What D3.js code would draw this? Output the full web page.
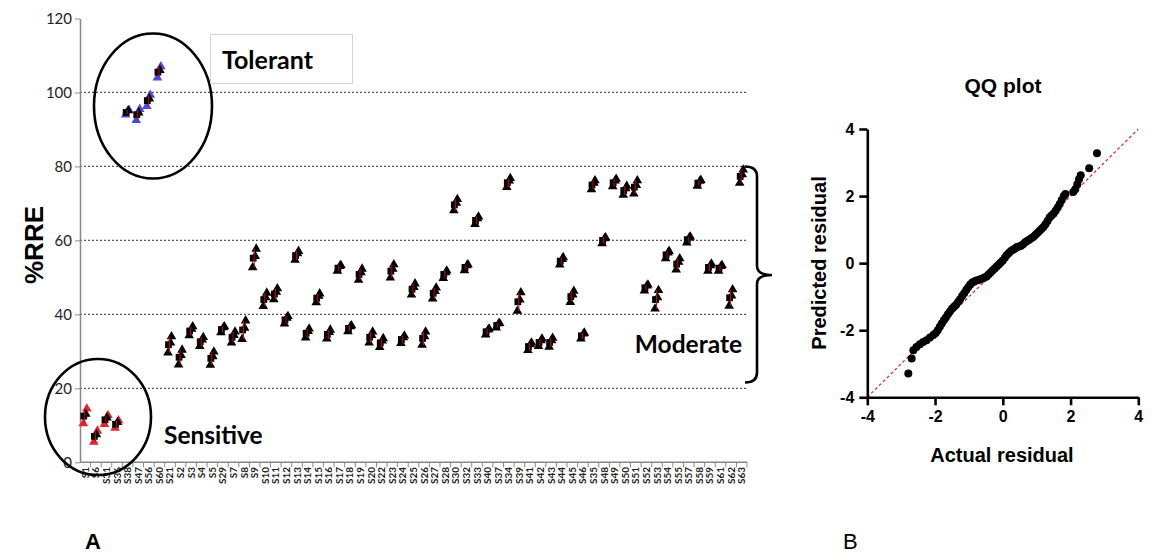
<!DOCTYPE html>
<html>
<head>
<meta charset="utf-8">
<script src="https://cdn.jsdelivr.net/npm/d3@7"></script>
<style>
  body { margin: 0; background: #fff; }
  svg { display: block; }
</style>
</head>
<body>
<svg id="chart" width="1154" height="553"></svg>
<script>
// Sample order along the x axis
const sampleNames = ["S1","S6","S31","S36","S38","S47","S56","S60","S21","S2","S3","S4","S5","S29","S7","S8",
  "S9","S10","S11","S12","S13","S14","S15","S16","S17","S18","S19","S20","S22","S23","S24","S25","S26","S27",
  "S28","S30","S32","S33","S40","S37","S34","S39","S41","S42","S43","S44","S45","S46","S35","S48","S49","S50",
  "S51","S52","S53","S54","S55","S57","S58","S59","S61","S62","S63"];

// Mean %RRE per sample and spread of the replicates
const meanRRE = [12.5, 7.0, 11.5, 10.3, 94.6, 94.0, 97.8, 105.5, 31.8, 28.4, 35.5, 32.6, 28.1, 35.9, 33.8, 35.8,
  55.2, 44.0, 45.5, 38.5, 55.9, 34.9, 44.4, 34.6, 52.5, 36.2, 50.8, 33.8, 32.3, 51.7, 33.2, 46.8, 33.5, 45.7,
  50.8, 69.6, 52.7, 65.4, 35.3, 37.0, 75.6, 43.4, 31.3, 32.4, 32.4, 54.4, 44.8, 34.2, 75.0, 60.0, 75.6, 73.5,
  74.4, 47.2, 44.0, 56.1, 53.6, 60.2, 75.5, 52.7, 52.5, 44.5, 77.3];
const sdRRE = [2.0, 1.5, 1.2, 1.0, 0.6, 1.5, 1.5, 1.5, 2.2, 2.0, 1.2, 1.2, 1.8, 0.8, 1.5, 2.5,
  2.5, 1.8, 1.5, 1.0, 1.2, 1.2, 1.2, 1.2, 0.8, 0.8, 1.5, 1.5, 1.2, 1.8, 1.0, 1.5, 1.8, 1.5,
  1.0, 1.5, 0.8, 1.0, 0.8, 0.6, 1.2, 2.5, 1.0, 1.0, 1.2, 1.0, 1.5, 0.8, 1.2, 0.8, 1.0, 1.2,
  1.8, 0.8, 2.5, 1.0, 1.5, 0.8, 0.8, 1.0, 0.8, 2.2, 1.8];

const sensitiveSamples = ["S1","S6","S31","S36"];
const tolerantSamples = ["S38","S47","S56","S60"];
const yTicks = [0, 20, 40, 60, 80, 100, 120];

// QQ plot: sorted actual residuals vs predicted residuals
const qqActual = [-2.79,-2.69,-2.64,-2.55,-2.45,-2.35,-2.25,-2.15,-2.05,-1.98,-1.92,-1.86,-1.8,-1.74,-1.68,-1.62,
  -1.56,-1.5,-1.44,-1.38,-1.32,-1.26,-1.2,-1.14,-1.08,-1.02,-0.96,-0.9,-0.84,-0.78,-0.72,-0.66,-0.6,-0.54,-0.48,
  -0.42,-0.36,-0.3,-0.24,-0.18,-0.12,-0.06,0,0.06,0.12,0.18,0.24,0.3,0.36,0.42,0.48,0.54,0.6,0.66,0.72,0.78,0.84,
  0.9,0.96,1.02,1.08,1.14,1.2,1.26,1.32,1.38,1.44,1.5,1.56,1.62,1.68,1.74,1.8,1.85,2.08,2.14,2.2,2.25,2.3,2.55,2.78];
const qqPredicted = [-3.29,-2.84,-2.6,-2.5,-2.42,-2.35,-2.3,-2.22,-2.14,-2.08,-2.0,-1.9,-1.8,-1.7,-1.62,-1.52,
  -1.44,-1.36,-1.3,-1.24,-1.16,-1.08,-0.98,-0.9,-0.8,-0.72,-0.64,-0.58,-0.55,-0.52,-0.5,-0.48,-0.46,-0.43,-0.4,
  -0.34,-0.28,-0.22,-0.16,-0.1,-0.04,0.02,0.08,0.16,0.24,0.3,0.36,0.4,0.44,0.48,0.5,0.52,0.56,0.62,0.66,0.7,0.74,
  0.78,0.84,0.9,0.96,1.02,1.08,1.16,1.26,1.36,1.42,1.48,1.56,1.66,1.76,1.88,2.0,2.06,2.12,2.2,2.35,2.5,2.62,2.83,3.28];
const qqTicks = [-4, -2, 0, 2, 4];

const svg = d3.select("#chart");
const leftFont = "Lato, 'Open Sans', sans-serif";
const rightFont = "'Liberation Sans', Arial, sans-serif";

// ---------- Left panel: %RRE per sample ----------
const x = d3.scaleBand().domain(sampleNames).range([80, 747]);
const y = d3.scaleLinear().domain([0, 120]).range([462.3, 18.5]);

svg.append("g").selectAll("line")
  .data(yTicks.filter(d => d > 0 && d < 120))
  .join("line")
  .attr("x1", 80).attr("x2", 747)
  .attr("y1", d => y(d)).attr("y2", d => y(d))
  .attr("stroke", "#555").attr("stroke-width", 1.2).attr("stroke-dasharray", "2,2");

const yAxis = svg.append("g").attr("transform", "translate(80,0)")
  .call(d3.axisLeft(y).tickValues(yTicks).tickSize(5).tickSizeOuter(0).tickFormat(d => d));
yAxis.select(".domain").attr("stroke", "#888").attr("stroke-width", 1.5);
yAxis.selectAll(".tick line").attr("stroke", "#888");
yAxis.selectAll("text").attr("font-family", leftFont).attr("font-size", 15).attr("fill", "#222").attr("x", -8);

// x axis line, boundary ticks and rotated labels
svg.append("line").attr("x1", 80).attr("x2", 747).attr("y1", y(0)).attr("y2", y(0))
  .attr("stroke", "#888").attr("stroke-width", 1.5);
svg.append("g").selectAll("line")
  .data(sampleNames)
  .join("line")
  .attr("x1", d => x(d) + x.bandwidth()).attr("x2", d => x(d) + x.bandwidth())
  .attr("y1", y(0)).attr("y2", y(0) + 5)
  .attr("stroke", "#888");
svg.append("g").selectAll("text")
  .data(sampleNames)
  .join("text")
  .attr("transform", d => `translate(${x(d) + x.bandwidth() / 2},467) rotate(-90)`)
  .attr("text-anchor", "end").attr("dy", "0.35em")
  .attr("font-family", leftFont).attr("font-size", 10).attr("font-weight", 700).attr("fill", "#222")
  .text(d => d);

// markers
const tri = d3.symbol().type(d3.symbolTriangle).size(40);
const sq = d3.symbol().type(d3.symbolSquare).size(46);
const groupColor = name => sensitiveSamples.includes(name) ? "#e8202a"
  : tolerantSamples.includes(name) ? "#4a4ae0" : "#000";

const marks = svg.append("g").selectAll("g")
  .data(sampleNames.map((name, i) => ({name, mean: meanRRE[i], sd: sdRRE[i]})))
  .join("g")
  .attr("transform", d => `translate(${x(d.name) + x.bandwidth() / 2},0)`);

marks.append("path").attr("d", tri)
  .attr("transform", d => `translate(-2,${y(d.mean - d.sd)})`)
  .attr("fill", d => groupColor(d.name));
marks.append("path").attr("d", tri)
  .attr("transform", d => `translate(1.5,${y(d.mean + d.sd)})`)
  .attr("fill", d => groupColor(d.name));
marks.append("path").attr("d", tri)
  .attr("transform", d => `translate(0.5,${y(d.mean) - 2})`)
  .attr("fill", "#000");
marks.append("path").attr("d", sq)
  .attr("transform", d => `translate(-1.5,${y(d.mean)})`)
  .attr("fill", "#000");
marks.append("line")
  .attr("x1", -0.5).attr("x2", -0.5)
  .attr("y1", d => y(d.mean - d.sd)).attr("y2", d => y(d.mean + d.sd))
  .attr("stroke", "#e00000").attr("stroke-width", 1);

// y title
svg.append("text")
  .attr("transform", "translate(43,245) rotate(-90)")
  .attr("text-anchor", "middle")
  .attr("font-family", rightFont).attr("font-size", 26).attr("font-weight", 700)
  .text("%RRE");

// group annotations
svg.append("ellipse").attr("cx", 153).attr("cy", 106).attr("rx", 59).attr("ry", 72.5)
  .attr("fill", "none").attr("stroke", "#000").attr("stroke-width", 2.6);
svg.append("ellipse").attr("cx", 98).attr("cy", 417).attr("rx", 53).attr("ry", 58)
  .attr("fill", "none").attr("stroke", "#000").attr("stroke-width", 2.6);
svg.append("rect").attr("x", 210.5).attr("y", 34.5).attr("width", 142).attr("height", 49)
  .attr("fill", "#fff").attr("stroke", "#d4d4d4");
svg.append("text").attr("x", 222).attr("y", 69)
  .attr("font-family", leftFont).attr("font-size", 25).attr("font-weight", 700).text("Tolerant");
svg.append("text").attr("x", 164).attr("y", 444)
  .attr("font-family", leftFont).attr("font-size", 24.5).attr("font-weight", 700).text("Sensitive");
svg.append("text").attr("x", 742).attr("y", 353).attr("text-anchor", "end")
  .attr("font-family", leftFont).attr("font-size", 24.5).attr("font-weight", 700).text("Moderate");

const bTop = y(80), bBot = 382.5, bMid = 275;
svg.append("path")
  .attr("d", `M745,${bTop} Q757,${bTop} 757,${bTop + 10} L757,${bMid - 9} Q757,${bMid} 772,${bMid} ` +
             `Q757,${bMid} 757,${bMid + 9} L757,${bBot - 10} Q757,${bBot} 745,${bBot}`)
  .attr("fill", "none").attr("stroke", "#000").attr("stroke-width", 2.6);

// ---------- Right panel: QQ plot ----------
const qx = d3.scaleLinear().domain([-4, 4]).range([867.3, 1138.3]);
const qy = d3.scaleLinear().domain([-4, 4]).range([397.3, 129]);

svg.append("line")
  .attr("x1", qx(-4)).attr("y1", qy(-4)).attr("x2", qx(4)).attr("y2", qy(4))
  .attr("stroke", "#e8202a").attr("stroke-width", 1.2).attr("stroke-dasharray", "3,2.5");

svg.append("g").selectAll("circle")
  .data(qqActual.map((a, i) => [a, qqPredicted[i]]))
  .join("circle")
  .attr("cx", d => qx(d[0])).attr("cy", d => qy(d[1])).attr("r", 4)
  .attr("fill", "#000");

const qxAxis = svg.append("g").attr("transform", `translate(0,${qy(-4)})`)
  .call(d3.axisBottom(qx).tickValues(qqTicks).tickSize(8).tickSizeOuter(0).tickPadding(5).tickFormat(d => String(d)));
const qyAxis = svg.append("g").attr("transform", `translate(${qx(-4)},0)`)
  .call(d3.axisLeft(qy).tickValues(qqTicks).tickSize(8).tickSizeOuter(0).tickPadding(5).tickFormat(d => String(d)));
[qxAxis, qyAxis].forEach(ax => {
  ax.select(".domain").attr("stroke", "#000").attr("stroke-width", 2.6);
  ax.selectAll(".tick line").attr("stroke", "#000").attr("stroke-width", 2.6);
  ax.selectAll("text").attr("font-family", rightFont).attr("font-size", 16).attr("font-weight", 700).attr("fill", "#000");
});

svg.append("text").attr("x", 1003).attr("y", 93).attr("text-anchor", "middle")
  .attr("font-family", rightFont).attr("font-size", 21).attr("font-weight", 700).text("QQ plot");
svg.append("text").attr("x", 1002).attr("y", 462).attr("text-anchor", "middle")
  .attr("font-family", rightFont).attr("font-size", 20).attr("font-weight", 700).text("Actual residual");
svg.append("text").attr("transform", "translate(826,263) rotate(-90)").attr("text-anchor", "middle")
  .attr("font-family", rightFont).attr("font-size", 20).attr("font-weight", 700).text("Predicted residual");

// panel letters
svg.append("text").attr("x", 85).attr("y", 549)
  .attr("font-family", rightFont).attr("font-size", 22).attr("font-weight", 700).text("A");
svg.append("text").attr("x", 843).attr("y", 549)
  .attr("font-family", rightFont).attr("font-size", 22).text("B");
</script>
</body>
</html>
